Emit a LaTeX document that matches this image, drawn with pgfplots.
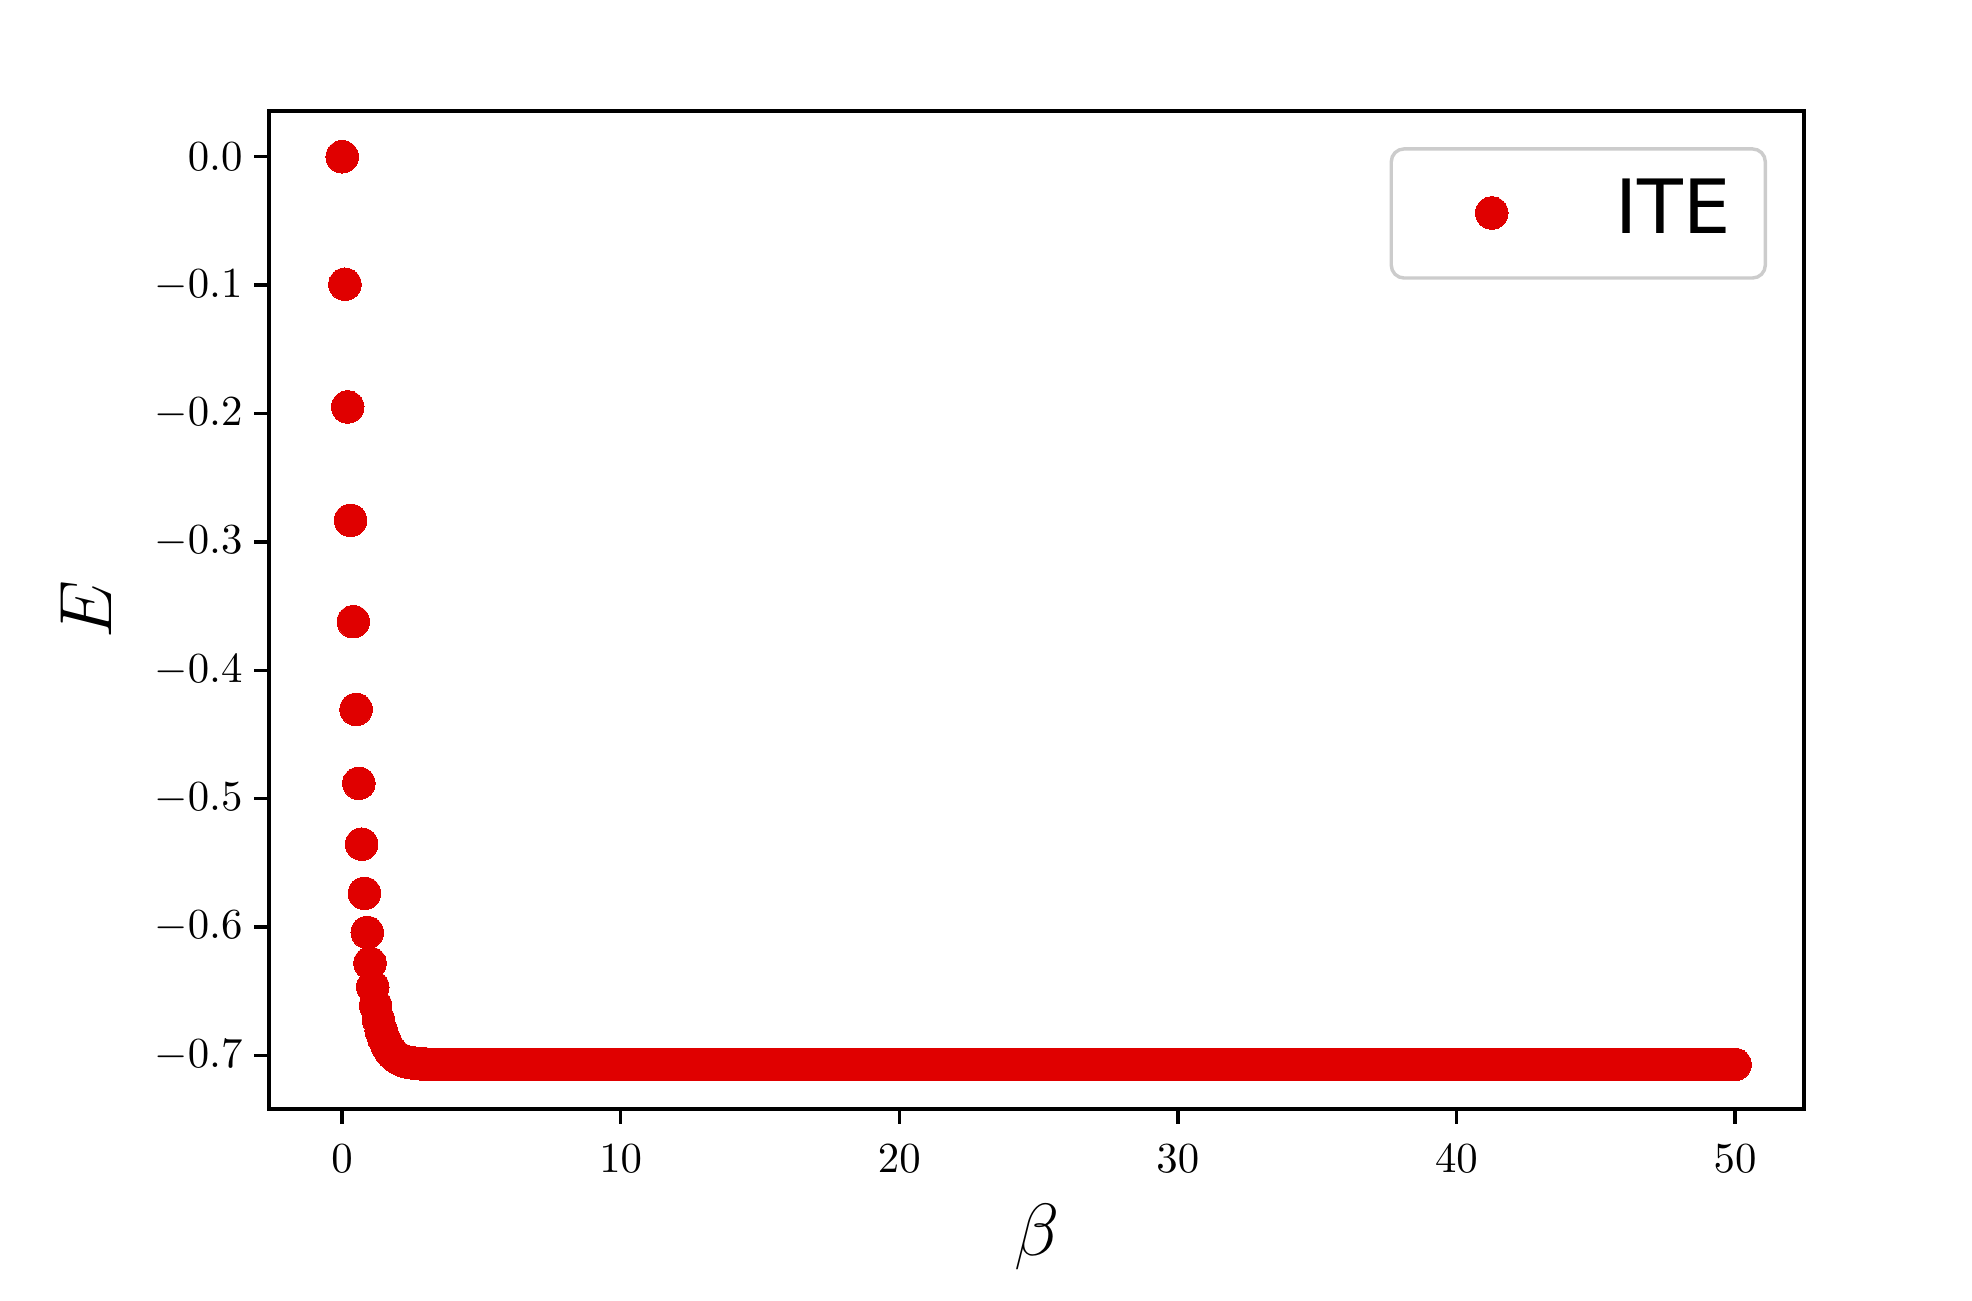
\documentclass[border=0pt]{standalone}
\usepackage{fontspec}
\newfontfamily\dejavu{DejaVu Sans}
\usepackage{pgfplots}
\pgfplotsset{compat=1.18}
\definecolor{itered}{RGB}{224,0,0}

\begin{document}
\begin{tikzpicture}
\begin{axis}[
  scale only axis, width=358.6pt, height=233.2pt,
  xmin=-2.62, xmax=52.47, ymin=-0.7417, ymax=0.0358,
  xtick={0,10,20,30,40,50},
  ytick={-0.7,-0.6,-0.5,-0.4,-0.3,-0.2,-0.1,0},
  xtick pos=left, ytick pos=left,
  tick align=outside, major tick length=3.5pt,
  axis line style={line width=0.8pt},
  every tick/.style={black, line width=0.8pt},
  xticklabel style={yshift=-1.5pt},
  yticklabel style={xshift=0.8pt, /pgf/number format/.cd, fixed, fixed zerofill, precision=1},
  xlabel={$\beta$}, ylabel={$E$},
  label style={font=\fontsize{16}{19}\selectfont},
  xlabel style={at={(axis description cs:0.5,-0.1286)}, anchor=center},
  ylabel style={at={(axis description cs:-0.1194,0.5)}, anchor=center},
  legend style={at={(rel axis cs:1,1)}, anchor=north east,
    xshift=-8.6pt, yshift=-8.5pt, draw=black!20, line width=0.8pt,
    rounded corners=3pt, fill=white, inner xsep=8.1pt, inner ysep=6.97pt,
    font=\dejavu\fontsize{17.5}{21}\selectfont,
    nodes={inner sep=0pt}, column sep=5.4pt},
  legend image code/.code={
    \path (0pt,-2.95pt) (38.1pt,8.7pt);
    \draw[#1] plot coordinates {(15pt,1.1pt)};
  },
]
\coordinate (bl) at (rel axis cs:0,0);
\coordinate (tr) at (rel axis cs:1,1);
\addplot[only marks, mark=*, color=itered, mark size=3.8pt,
  mark options={draw=itered, fill=itered, line width=0pt}] coordinates {
  (0,0) (0.1,-0.0993) (0.2,-0.1949) (0.3,-0.2832) (0.4,-0.3622)
  (0.5,-0.4305) (0.6,-0.4881) (0.7,-0.5355) (0.8,-0.5738) (0.9,-0.6043)
  (1.0,-0.6282) (1.1,-0.6468) (1.2,-0.6612) (1.3,-0.6722) (1.4,-0.6806)
  (1.5,-0.6871) (1.6,-0.6920) (1.7,-0.6957) (1.8,-0.6985) (1.9,-0.7006)
  (2.0,-0.7022) (2.1,-0.7034) (2.2,-0.7043) (2.3,-0.7050) (2.4,-0.7055)
  (2.5,-0.7059) (2.6,-0.7062) (2.7,-0.7064) (2.8,-0.7066) (2.9,-0.7067)
  (3.0,-0.7068)
  (3.25,-0.7071) (3.5,-0.7071) (3.75,-0.7071) (4,-0.7071)
  (4.25,-0.7071) (4.5,-0.7071) (4.75,-0.7071) (5,-0.7071)
  (5.25,-0.7071) (5.5,-0.7071) (5.75,-0.7071) (6,-0.7071)
  (6.25,-0.7071) (6.5,-0.7071) (6.75,-0.7071) (7,-0.7071)
  (7.25,-0.7071) (7.5,-0.7071) (7.75,-0.7071) (8,-0.7071)
  (8.25,-0.7071) (8.5,-0.7071) (8.75,-0.7071) (9,-0.7071)
  (9.25,-0.7071) (9.5,-0.7071) (9.75,-0.7071) (10,-0.7071)
  (10.25,-0.7071) (10.5,-0.7071) (10.75,-0.7071) (11,-0.7071)
  (11.25,-0.7071) (11.5,-0.7071) (11.75,-0.7071) (12,-0.7071)
  (12.25,-0.7071) (12.5,-0.7071) (12.75,-0.7071) (13,-0.7071)
  (13.25,-0.7071) (13.5,-0.7071) (13.75,-0.7071) (14,-0.7071)
  (14.25,-0.7071) (14.5,-0.7071) (14.75,-0.7071) (15,-0.7071)
  (15.25,-0.7071) (15.5,-0.7071) (15.75,-0.7071) (16,-0.7071)
  (16.25,-0.7071) (16.5,-0.7071) (16.75,-0.7071) (17,-0.7071)
  (17.25,-0.7071) (17.5,-0.7071) (17.75,-0.7071) (18,-0.7071)
  (18.25,-0.7071) (18.5,-0.7071) (18.75,-0.7071) (19,-0.7071)
  (19.25,-0.7071) (19.5,-0.7071) (19.75,-0.7071) (20,-0.7071)
  (20.25,-0.7071) (20.5,-0.7071) (20.75,-0.7071) (21,-0.7071)
  (21.25,-0.7071) (21.5,-0.7071) (21.75,-0.7071) (22,-0.7071)
  (22.25,-0.7071) (22.5,-0.7071) (22.75,-0.7071) (23,-0.7071)
  (23.25,-0.7071) (23.5,-0.7071) (23.75,-0.7071) (24,-0.7071)
  (24.25,-0.7071) (24.5,-0.7071) (24.75,-0.7071) (25,-0.7071)
  (25.25,-0.7071) (25.5,-0.7071) (25.75,-0.7071) (26,-0.7071)
  (26.25,-0.7071) (26.5,-0.7071) (26.75,-0.7071) (27,-0.7071)
  (27.25,-0.7071) (27.5,-0.7071) (27.75,-0.7071) (28,-0.7071)
  (28.25,-0.7071) (28.5,-0.7071) (28.75,-0.7071) (29,-0.7071)
  (29.25,-0.7071) (29.5,-0.7071) (29.75,-0.7071) (30,-0.7071)
  (30.25,-0.7071) (30.5,-0.7071) (30.75,-0.7071) (31,-0.7071)
  (31.25,-0.7071) (31.5,-0.7071) (31.75,-0.7071) (32,-0.7071)
  (32.25,-0.7071) (32.5,-0.7071) (32.75,-0.7071) (33,-0.7071)
  (33.25,-0.7071) (33.5,-0.7071) (33.75,-0.7071) (34,-0.7071)
  (34.25,-0.7071) (34.5,-0.7071) (34.75,-0.7071) (35,-0.7071)
  (35.25,-0.7071) (35.5,-0.7071) (35.75,-0.7071) (36,-0.7071)
  (36.25,-0.7071) (36.5,-0.7071) (36.75,-0.7071) (37,-0.7071)
  (37.25,-0.7071) (37.5,-0.7071) (37.75,-0.7071) (38,-0.7071)
  (38.25,-0.7071) (38.5,-0.7071) (38.75,-0.7071) (39,-0.7071)
  (39.25,-0.7071) (39.5,-0.7071) (39.75,-0.7071) (40,-0.7071)
  (40.25,-0.7071) (40.5,-0.7071) (40.75,-0.7071) (41,-0.7071)
  (41.25,-0.7071) (41.5,-0.7071) (41.75,-0.7071) (42,-0.7071)
  (42.25,-0.7071) (42.5,-0.7071) (42.75,-0.7071) (43,-0.7071)
  (43.25,-0.7071) (43.5,-0.7071) (43.75,-0.7071) (44,-0.7071)
  (44.25,-0.7071) (44.5,-0.7071) (44.75,-0.7071) (45,-0.7071)
  (45.25,-0.7071) (45.5,-0.7071) (45.75,-0.7071) (46,-0.7071)
  (46.25,-0.7071) (46.5,-0.7071) (46.75,-0.7071) (47,-0.7071)
  (47.25,-0.7071) (47.5,-0.7071) (47.75,-0.7071) (48,-0.7071)
  (48.25,-0.7071) (48.5,-0.7071) (48.75,-0.7071) (49,-0.7071)
  (49.25,-0.7071) (49.5,-0.7071) (49.75,-0.7071) (50,-0.7071)
};
\addlegendentry{\raisebox{2pt}[\height][\depth]{ITE}}
\end{axis}
\pgfresetboundingbox
\path ([shift={(-62.9pt,-44.7pt)}]bl) rectangle ([shift={(39.3pt,25.9pt)}]tr);
\end{tikzpicture}
\end{document}
